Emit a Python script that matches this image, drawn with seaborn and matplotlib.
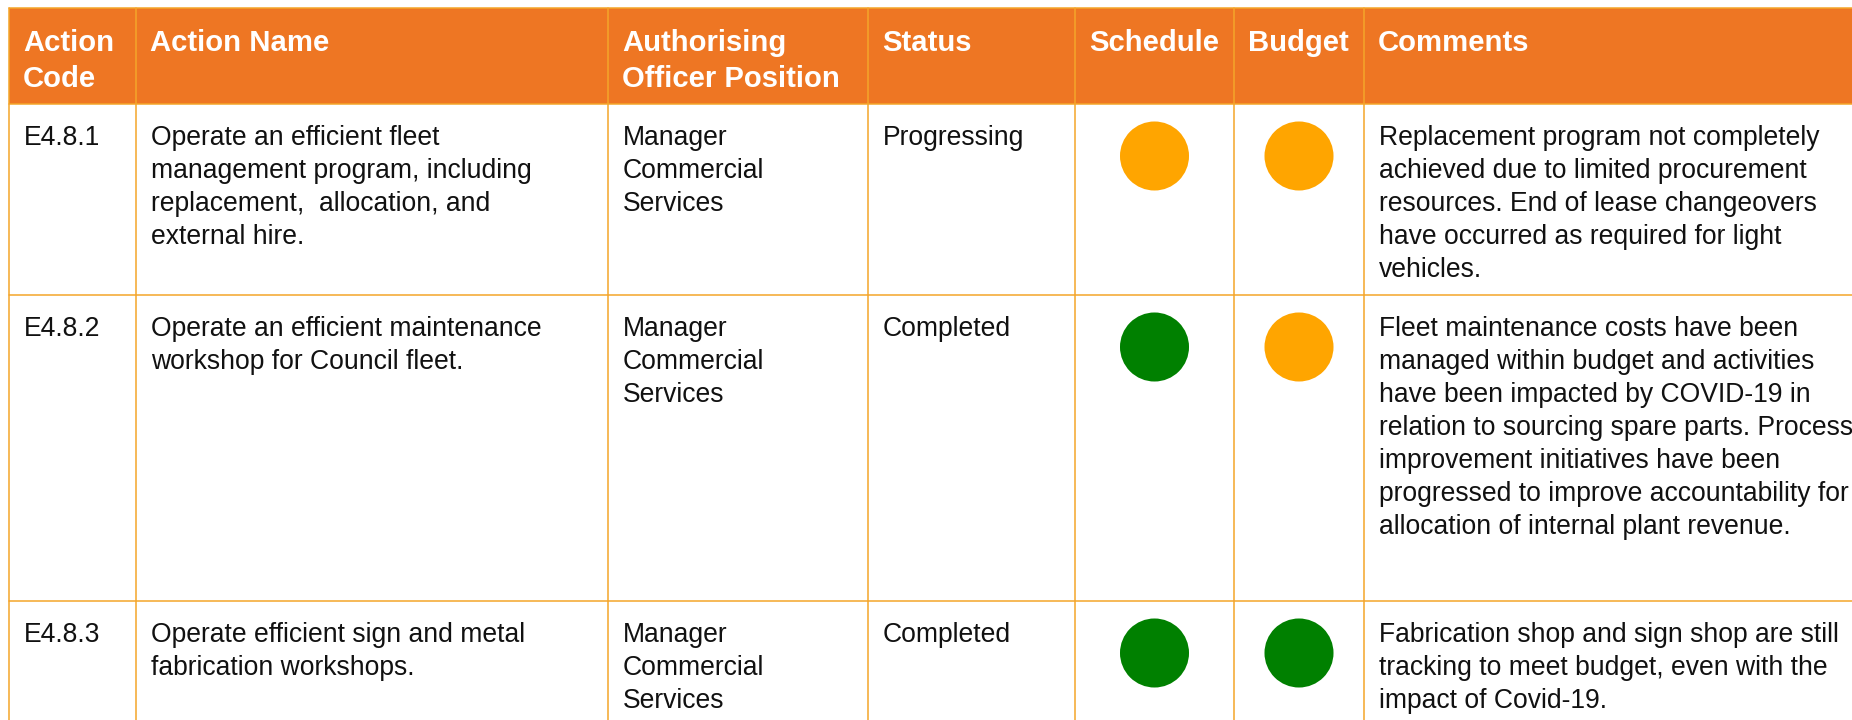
import pandas as pd
import seaborn as sns
import matplotlib.pyplot as plt
from matplotlib.patches import Rectangle

# Table content
headers = [["Action", "Code"], ["Action Name"], ["Authorising", "Officer Position"],
           ["Status"], ["Schedule"], ["Budget"], ["Comments"]]
action_codes = ["E4.8.1", "E4.8.2", "E4.8.3"]
action_names = [
    ["Operate an efficient fleet", "management program, including",
     "replacement,  allocation, and", "external hire."],
    ["Operate an efficient maintenance", "workshop for Council fleet."],
    ["Operate efficient sign and metal", "fabrication workshops."],
]
officers = [["Manager", "Commercial", "Services"]] * 3
statuses = ["Progressing", "Completed", "Completed"]
schedule = ["Amber", "Green", "Green"]
budget = ["Amber", "Amber", "Green"]
comments = [
    ["Replacement program not completely", "achieved due to limited procurement",
     "resources. End of lease changeovers", "have occurred as required for light",
     "vehicles."],
    ["Fleet maintenance costs have been", "managed within budget and activities",
     "have been impacted by COVID-19 in", "relation to sourcing spare parts. Process",
     "improvement initiatives have been", "progressed to improve accountability for",
     "allocation of internal plant revenue."],
    ["Fabrication shop and sign shop are still", "tracking to meet budget, even with the",
     "impact of Covid-19."],
]

# Layout (pixels)
W, H = 1852, 720
col_edges = [9, 136, 608, 868, 1075, 1234, 1364, 1900]
row_edges = [8, 104, 295, 601, 760]
pad = 15
line_h = 33
head_orange = "#EE7623"
grid_col = "#F4A52A"
rating_colors = {"Amber": "#FFA500", "Green": "#008000"}

sns.set_theme(style="white")
plt.rcParams["font.family"] = ["Liberation Sans", "DejaVu Sans"]

fig = plt.figure(figsize=(W / 100, H / 100), dpi=100)
ax = fig.add_axes([0, 0, 1, 1])

# header band
ax.add_patch(Rectangle((col_edges[0], row_edges[0]), W, row_edges[1] - row_edges[0],
                       facecolor=head_orange, edgecolor="none", zorder=0))

# grid lines
for x in col_edges[:-1]:
    ax.plot([x, x], [row_edges[0], H + 5], color=grid_col, lw=1.1, zorder=1)
for y in row_edges[1:-1]:
    ax.plot([col_edges[0], W + 5], [y, y], color=grid_col, lw=1.1, zorder=1)
ax.plot([col_edges[0], W + 5], [row_edges[0], row_edges[0]], color=grid_col, lw=1.1, zorder=1)

# header text
for c, lines in enumerate(headers):
    for i, t in enumerate(lines):
        ax.text(col_edges[c] + pad - 1, 51 + i * 36, t, color="white", fontsize=21.1,
                fontweight="bold", va="baseline", ha="left", zorder=3)

# body text
body_cols = [[[c] for c in action_codes], action_names, officers,
             [[s] for s in statuses], None, None, comments]
for c, col in enumerate(body_cols):
    if col is None:
        continue
    for r, lines in enumerate(col):
        top = row_edges[r + 1]
        for i, t in enumerate(lines):
            ax.text(col_edges[c] + pad, top + 41 + i * line_h, t, color="#111111",
                    fontsize=19.1, va="baseline", ha="left", zorder=3)

# status dots
dots = []
for c, name, vals in [(4, "Schedule", schedule), (5, "Budget", budget)]:
    for r, v in enumerate(vals):
        dots.append({"x": (col_edges[c] + col_edges[c + 1]) / 2,
                     "y": row_edges[r + 1] + 52, "rating": v})
dots = pd.DataFrame(dots)
sns.scatterplot(data=dots, x="x", y="y", hue="rating", palette=rating_colors,
                s=2470, linewidth=0, legend=False, ax=ax, zorder=4)
ax.set_xlim(0, W)
ax.set_ylim(H, 0)
ax.axis("off")

fig.savefig("out.png", dpi=100)
